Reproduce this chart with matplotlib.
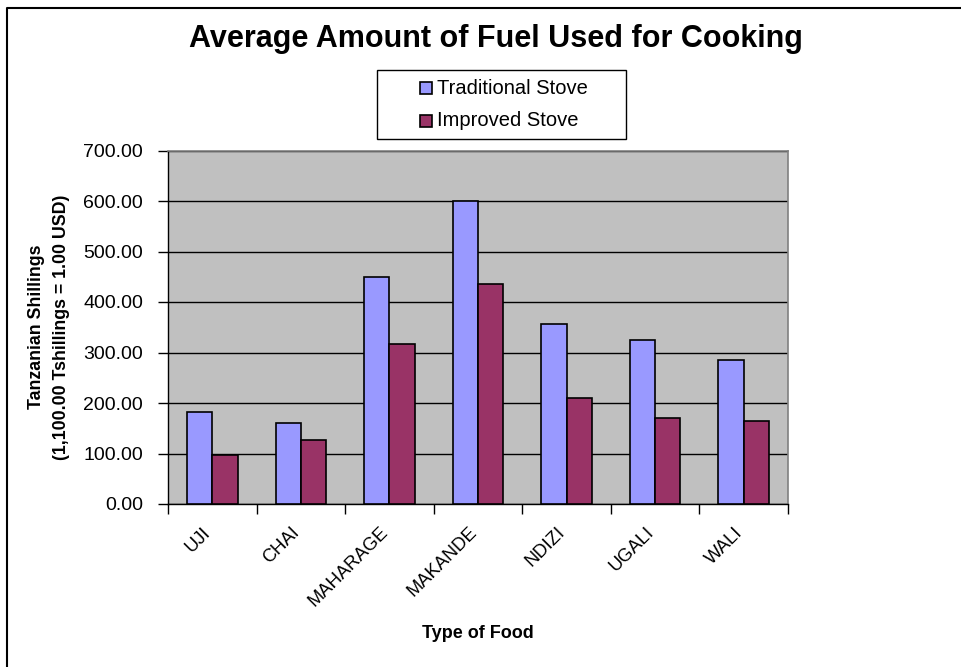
import matplotlib
matplotlib.use("Agg")
import matplotlib.pyplot as plt
import numpy as np
from matplotlib.patches import Rectangle
from matplotlib.lines import Line2D
from matplotlib.transforms import ScaledTranslation, blended_transform_factory

plt.rcParams['font.family'] = ['Liberation Sans', 'DejaVu Sans']

categories = ["UJI", "CHAI", "MAHARAGE", "MAKANDE", "NDIZI", "UGALI", "WALI"]
traditional = [183, 161, 449, 600, 356, 324, 285]
improved = [98, 126, 317, 435, 209, 171, 164]
series_names = ["Traditional Stove", "Improved Stove"]
series_colors = ['#9999FF', '#993366']
yticks = [0, 100, 200, 300, 400, 500, 600, 700]

W, H = 962, 667
fig = plt.figure(figsize=(W / 100, H / 100), dpi=100)


def fx(px):
    return px / W


def fy(py):
    return 1 - py / H


# outer frame (only top/left edges visible in the crop)
fig.add_artist(Line2D([fx(7.5), fx(7.5), 1.0], [0.0, fy(7.5), fy(7.5)],
                      transform=fig.transFigure, color='black', linewidth=1.5))

left, right, top, bottom = 168, 788, 150.5, 504
ax = fig.add_axes([fx(left), fy(bottom), fx(right - left), (bottom - top) / H])
ax.set_facecolor('#C0C0C0')

x = np.arange(len(categories))
bw = 1 / 3.5
ax.bar(x - bw / 2, traditional, bw, color=series_colors[0], edgecolor='black',
       linewidth=1.2, zorder=3)
ax.bar(x + bw / 2, improved, bw, color=series_colors[1], edgecolor='black',
       linewidth=1.2, zorder=3)

ax.set_xlim(-0.5, len(categories) - 0.5)
ax.set_ylim(0, 700)
ax.set_yticks(yticks)
ax.set_yticklabels([f"{v:.2f}" for v in yticks], fontsize=14)
ax.yaxis.grid(True, color='black', linewidth=1.0, zorder=1)
ax.set_axisbelow(True)

ax.set_xticks(np.arange(len(categories) + 1) - 0.5)
ax.set_xticklabels([])
ax.tick_params(axis='x', which='major', length=7, width=1, direction='out')
ax.tick_params(axis='y', length=7, width=1, direction='out', pad=11)

# category labels, rotated 45 degrees
btrans = blended_transform_factory(ax.transData, ax.transAxes)
off = ScaledTranslation(-10 / 100, -20 / 100, fig.dpi_scale_trans)
for xi, lab in zip(x, categories):
    ax.text(xi, 0, lab, transform=btrans + off, rotation=45, ha='right', va='top',
            rotation_mode='anchor', fontsize=13.2)

for s in ['top', 'right']:
    ax.spines[s].set_color('#808080')
    ax.spines[s].set_linewidth(1.2)
for s in ['left', 'bottom']:
    ax.spines[s].set_color('black')
    ax.spines[s].set_linewidth(1.0)

fig.text(fx(496), fy(46.5), "Average Amount of Fuel Used for Cooking",
         ha='center', va='baseline', fontsize=22, fontweight='bold')

fig.text(fx(49), fy(327), "Tanzanian Shillings\n(1,100.00 Tshillings = 1.00 USD)",
         ha='center', va='center', rotation=90, fontsize=12.8, fontweight='bold',
         linespacing=1.65)

fig.text(fx(478), fy(634), "Type of Food", ha='center', va='center',
         fontsize=13, fontweight='bold')

# legend box
fig.add_artist(Rectangle((fx(377), fy(139)), fx(626 - 377), (139 - 70) / H,
                         transform=fig.transFigure, facecolor='white',
                         edgecolor='black', linewidth=1.0))
for i, (name, col) in enumerate(zip(series_names, series_colors)):
    yc = 88 + 33 * i
    fig.add_artist(Rectangle((fx(420), fy(yc + 6)), fx(12), 12 / H,
                             transform=fig.transFigure, facecolor=col,
                             edgecolor='black', linewidth=1.2))
    fig.text(fx(437), fy(yc), name, ha='left', va='center', fontsize=14.5)

fig.savefig("out.png", dpi=100)
